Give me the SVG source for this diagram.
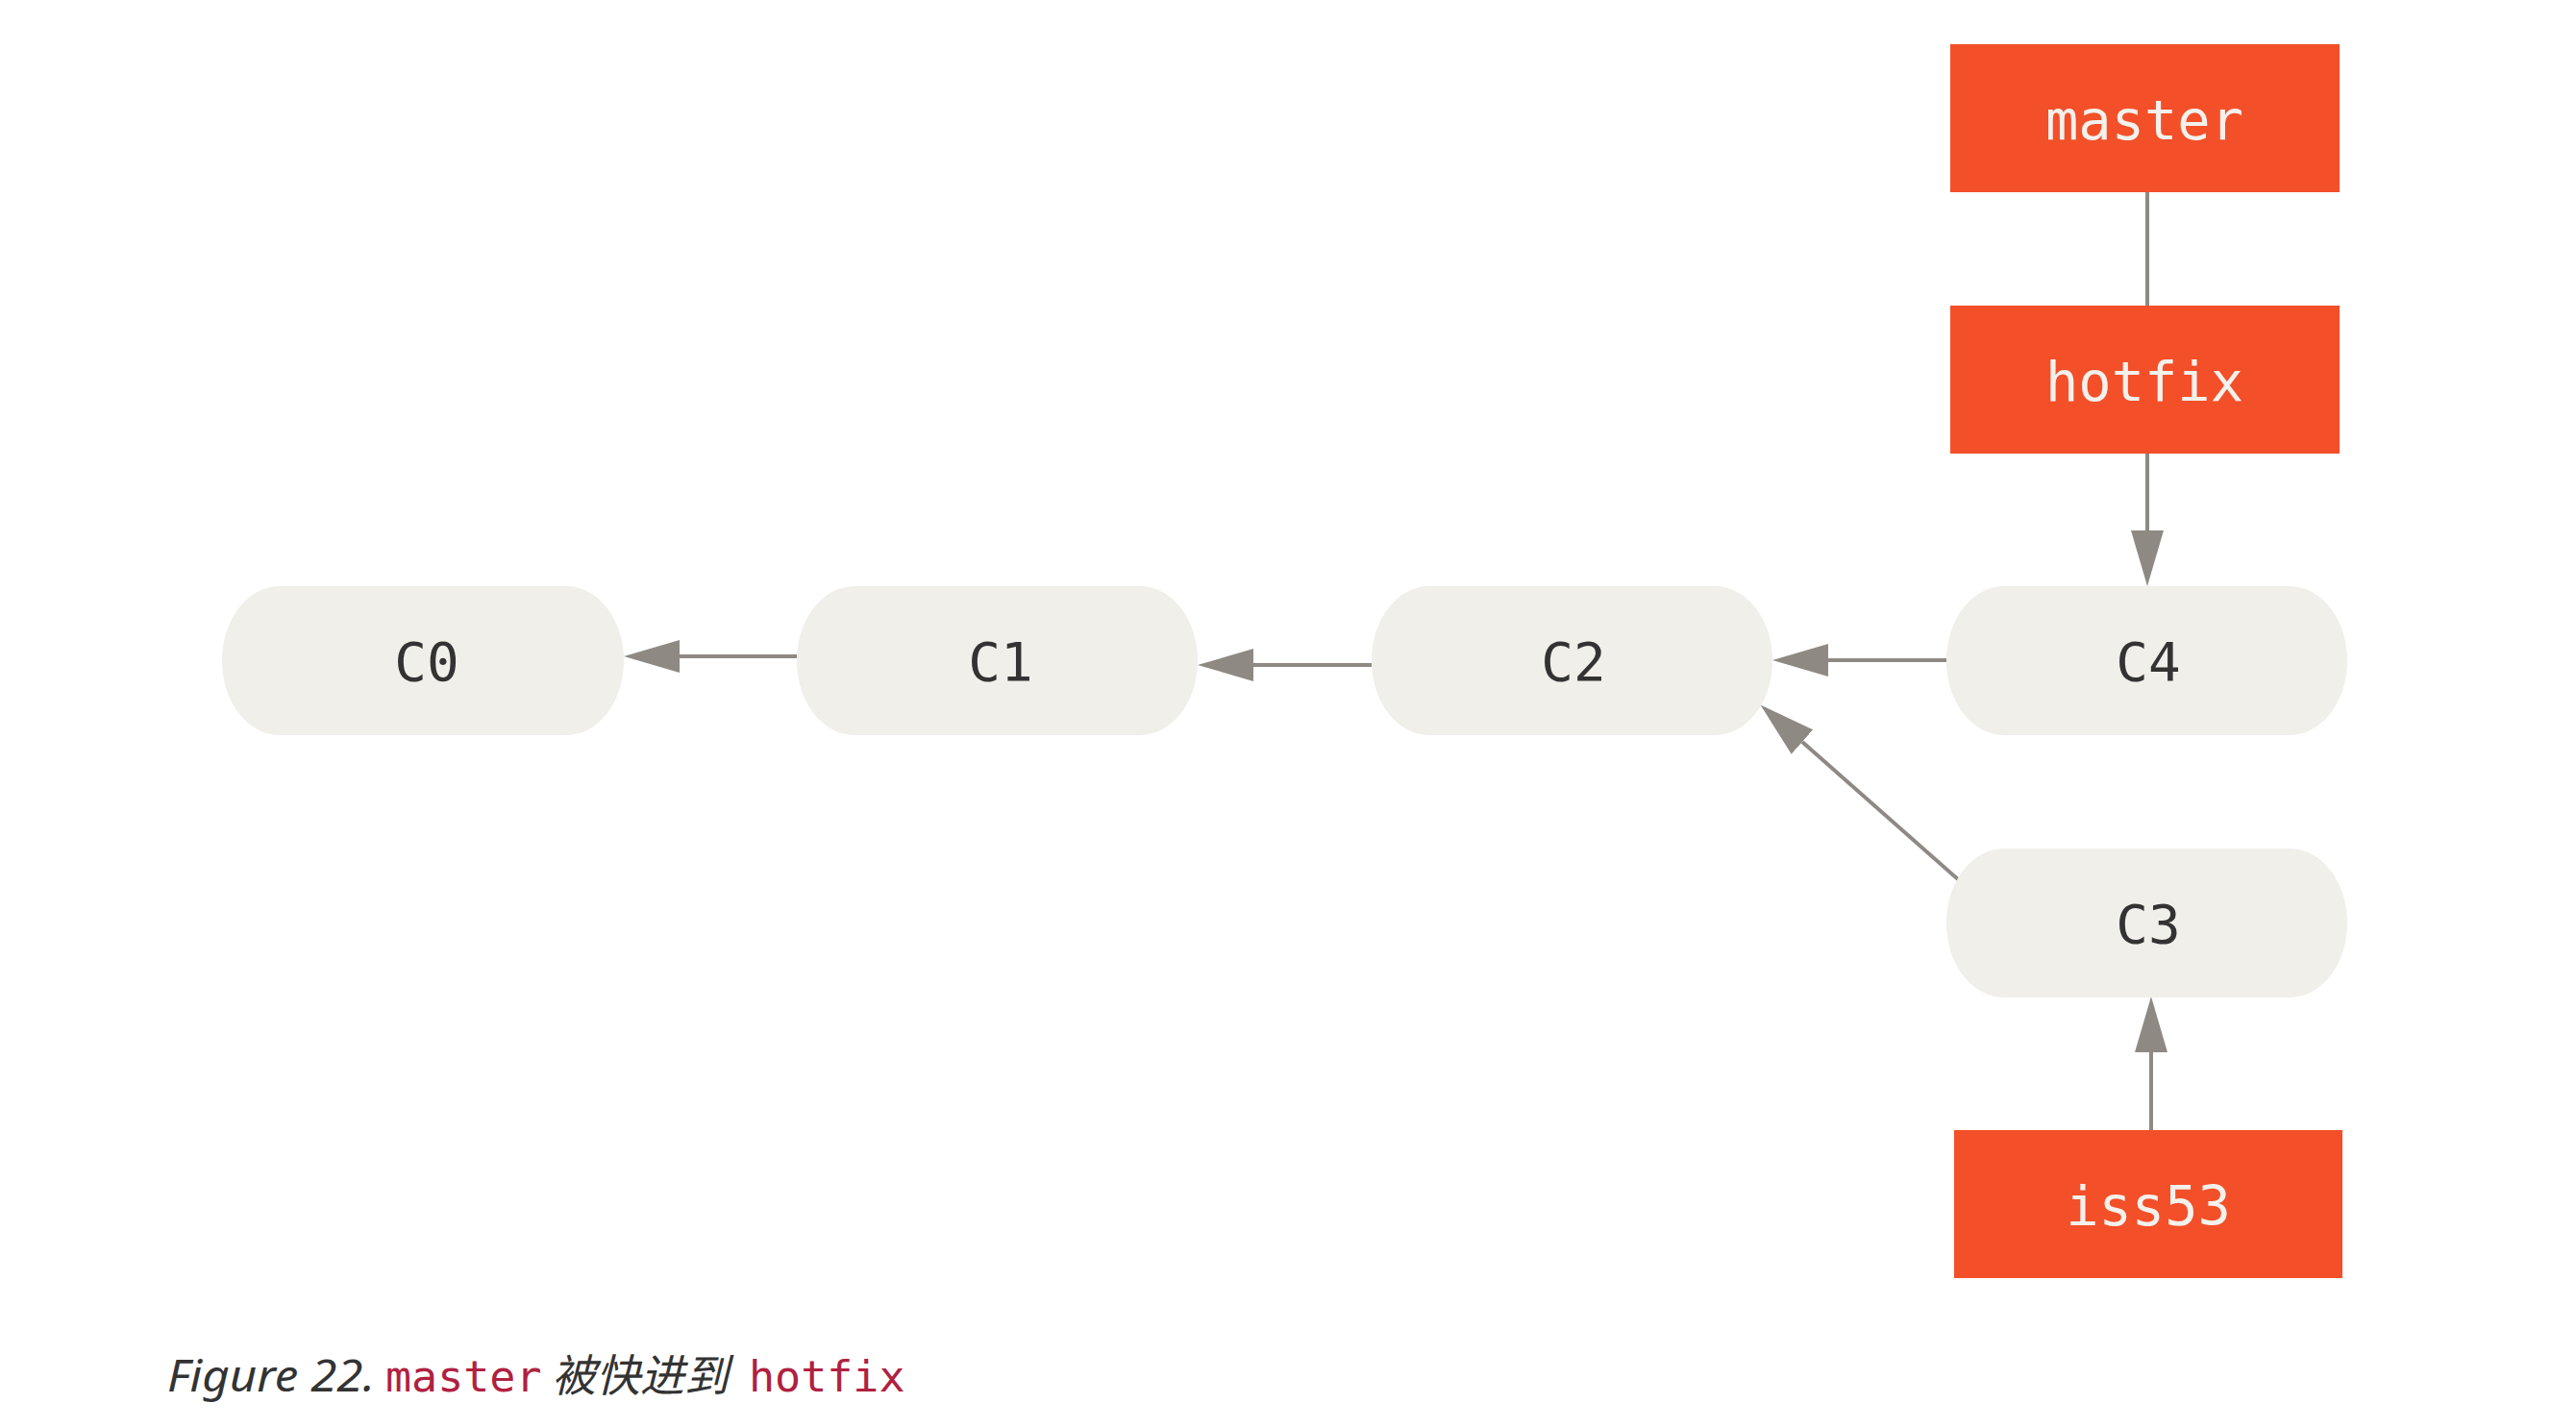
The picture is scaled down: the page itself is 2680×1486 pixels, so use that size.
<svg xmlns="http://www.w3.org/2000/svg" width="2680" height="1486" viewBox="0 0 2680 1486">
<style>
.bg{fill:#ffffff}
.pill{fill:#f0efe9}
.box{fill:#f34f29}
.ptxt{font-family:"DejaVu Sans Mono","Liberation Mono",monospace;font-size:56px;fill:#333333;text-anchor:middle}
.btxt{font-family:"DejaVu Sans Mono","Liberation Mono",monospace;font-size:57px;fill:#f3f1ec;text-anchor:middle}
.edge{stroke:#8e8a83;stroke-width:4;fill:none}
.cap{font-family:"Noto Sans","Open Sans",sans-serif;font-style:italic;font-size:45px;fill:#333333}
.capcjk{font-family:"Noto Sans CJK SC",sans-serif;font-style:italic;font-size:46px;fill:#333333}
.code{font-family:"DejaVu Sans Mono","Liberation Mono",monospace;font-size:45px;fill:#b0213f}
</style>
<defs>
<marker id="arr" markerUnits="userSpaceOnUse" viewBox="0 0 58 34" markerWidth="58" markerHeight="34" refX="0" refY="17" orient="auto">
<path d="M0,0 L58,17 L0,34 z" fill="#8e8a83"/>
</marker>
</defs>
<rect class="bg" x="0" y="0" width="2680" height="1486"/>
<g id="connectors">
<line class="edge" x1="829" y1="683" x2="707" y2="683" marker-end="url(#arr)"/>
<line class="edge" x1="1427" y1="692" x2="1304" y2="692" marker-end="url(#arr)"/>
<line class="edge" x1="2025" y1="687" x2="1902" y2="687" marker-end="url(#arr)"/>
<line class="edge" x1="2037" y1="915" x2="1875" y2="772" marker-end="url(#arr)"/>
<line class="edge" x1="2234" y1="200" x2="2234" y2="318"/>
<line class="edge" x1="2234" y1="472" x2="2234" y2="552" marker-end="url(#arr)"/>
<line class="edge" x1="2238" y1="1176" x2="2238" y2="1095" marker-end="url(#arr)"/>
</g>
<g id="C0"><rect class="pill" x="231" y="610" width="418" height="155" rx="60" ry="77"/><text class="ptxt" x="444" y="708">C0</text></g>
<g id="C1"><rect class="pill" x="829" y="610" width="417" height="155" rx="60" ry="77"/><text class="ptxt" x="1041" y="708">C1</text></g>
<g id="C2"><rect class="pill" x="1427" y="610" width="417" height="155" rx="60" ry="77"/><text class="ptxt" x="1637" y="708">C2</text></g>
<g id="C4"><rect class="pill" x="2025" y="610" width="417" height="155" rx="60" ry="77"/><text class="ptxt" x="2235" y="708">C4</text></g>
<g id="C3"><rect class="pill" x="2025" y="883" width="417" height="155" rx="60" ry="77"/><text class="ptxt" x="2235" y="981">C3</text></g>
<g id="master"><rect class="box" x="2029" y="46" width="405" height="154"/><text class="btxt" x="2231" y="145">master</text></g>
<g id="hotfix"><rect class="box" x="2029" y="318" width="405" height="154"/><text class="btxt" x="2231" y="417">hotfix</text></g>
<g id="iss53"><rect class="box" x="2033" y="1176" width="404" height="154"/><text class="btxt" x="2235" y="1275">iss53</text></g>
<g id="caption">
<text class="cap" x="174" y="1448" textLength="216" lengthAdjust="spacingAndGlyphs">Figure 22.</text>
<text class="code" x="401" y="1448">master</text>
<text class="capcjk" x="574" y="1448">被快进到</text>
<text class="code" x="779" y="1448">hotfix</text>
</g>
</svg>
